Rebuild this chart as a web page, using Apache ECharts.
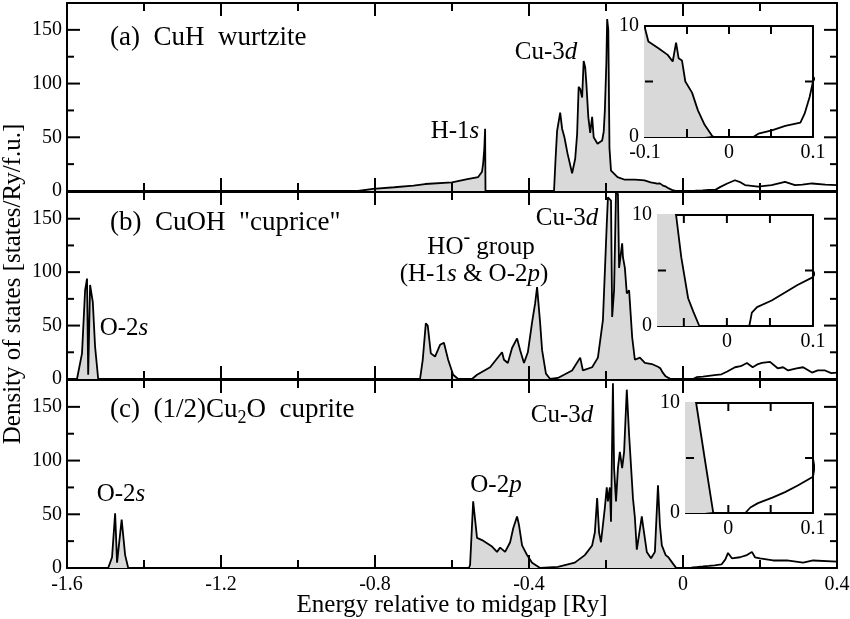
<!DOCTYPE html>
<html><head><meta charset="utf-8">
<script src="https://cdn.jsdelivr.net/npm/echarts@6/dist/echarts.min.js"></script>
<style>html,body{margin:0;padding:0;background:#fff}#c{width:850px;height:619px}</style>
</head><body><div id="c"></div><script>
// ---------------- data: [energy (Ry), DOS (states/Ry/f.u.)] ----------------
const cuhOccupied = [[-0.90,0],[-0.844,0],[-0.805,2],[-0.75,3.5],[-0.70,5],[-0.67,6.5],[-0.60,8],[-0.597,9],[-0.56,11],[-0.532,13],[-0.522,18],[-0.519,26],[-0.516,40],[-0.514,58],[-0.513,0],
 [-0.335,0],[-0.331,30],[-0.327,56],[-0.319,73],[-0.314,58],[-0.308,50],[-0.300,35],[-0.288,16.5],[-0.280,30],[-0.275,53],[-0.271,97],[-0.267,95],[-0.262,87],[-0.258,121],[-0.254,115],[-0.251,100],[-0.246,69],[-0.241,54],[-0.236,69],[-0.232,50],[-0.222,44],[-0.210,47],[-0.206,55],[-0.203,75],[-0.199,120],[-0.197,160],[-0.194,150],[-0.191,40],[-0.187,19],[-0.170,13],[-0.151,10.5],[-0.125,10.5],[-0.107,10.2],
 [-0.100,9.8],[-0.096,8.6],[-0.084,8.0],[-0.073,7.4],[-0.067,6.8],[-0.063,8.5],[-0.060,7.1],[-0.056,6.9],[-0.052,5.0],[-0.044,4.0],[-0.037,2.4],[-0.029,1.1],[-0.020,0.1],[-0.018,0]];
const cuhEmpty = [[-0.018,0],[0.029,0],[0.035,0.3],[0.051,0.6],[0.067,1.0],[0.085,1.3],[0.090,2.1],[0.096,3.6],[0.100,5.0],[0.115,7],[0.135,10],[0.150,8],[0.161,5.5],[0.195,4],[0.23,5.5],[0.265,8.5],[0.291,5.5],[0.31,6],[0.335,7],[0.37,6],[0.40,5.5]];

const cuohOccupied = [[-1.60,0],[-1.574,0],[-1.561,24],[-1.553,83],[-1.548,94],[-1.545,4],[-1.540,88],[-1.533,72],[-1.527,30],[-1.519,0],
 [-0.683,0],[-0.676,18],[-0.668,52],[-0.663,50],[-0.655,24],[-0.644,21],[-0.631,32],[-0.621,34],[-0.610,18],[-0.597,4],[-0.584,0],
 [-0.548,0],[-0.535,4],[-0.501,11],[-0.470,25],[-0.465,18],[-0.455,15],[-0.444,29],[-0.431,38],[-0.423,27],[-0.413,15],[-0.403,25],[-0.392,53],[-0.384,71],[-0.379,86],[-0.371,52],[-0.366,27],[-0.356,5],[-0.345,0],
 [-0.325,1],[-0.288,8],[-0.267,20],[-0.260,8],[-0.236,11],[-0.221,20],[-0.208,55],[-0.198,145],[-0.195,170],[-0.187,167],[-0.184,58],[-0.179,83],[-0.174,175],[-0.169,173],[-0.166,104],[-0.158,127],[-0.156,114],[-0.151,104],[-0.146,80],[-0.140,83],[-0.132,39],[-0.125,18],[-0.112,20],[-0.099,15],[-0.081,14],[-0.065,11.5],
 [-0.059,10],[-0.053,6.2],[-0.045,2.5],[-0.039,1.3],[-0.032,0]];
const cuohEmpty = [[-0.032,0],[0.026,0],[0.029,1.2],[0.035,1.7],[0.052,2.3],[0.067,3.0],[0.082,3.7],[0.100,4.4],[0.115,7],[0.135,11],[0.150,12],[0.166,15],[0.181,11],[0.195,14],[0.205,15],[0.226,16],[0.246,10],[0.260,11],[0.273,8],[0.295,10],[0.312,11],[0.335,6],[0.350,8],[0.369,8],[0.385,5.5],[0.40,6]];

const cu2oOccupied = [[-1.60,0],[-1.493,0],[-1.483,10],[-1.475,51],[-1.470,5],[-1.458,45],[-1.449,12],[-1.441,0],
 [-0.556,0],[-0.553,3],[-0.545,62],[-0.535,28],[-0.522,26],[-0.509,23],[-0.496,20],[-0.493,21],[-0.483,15],[-0.475,19],[-0.462,15],[-0.449,24],[-0.441,37],[-0.431,48],[-0.426,40],[-0.418,21],[-0.405,12],[-0.392,5],[-0.371,0],
 [-0.325,1],[-0.281,5],[-0.255,12],[-0.236,21],[-0.229,33],[-0.223,65],[-0.218,33],[-0.213,24],[-0.203,56],[-0.198,75],[-0.195,62],[-0.190,75],[-0.187,43],[-0.182,172],[-0.179,93],[-0.174,62],[-0.169,93],[-0.164,108],[-0.158,93],[-0.153,108],[-0.146,166],[-0.140,124],[-0.132,77],[-0.130,65],[-0.125,47],[-0.120,17],[-0.117,24],[-0.107,48],[-0.104,40],[-0.094,15],[-0.083,9],[-0.073,15],[-0.065,77],[-0.060,40],[-0.055,21],[-0.045,12],
 [-0.038,10],[-0.028,5],[-0.018,0.1],[-0.017,0]];
const cu2oEmpty = [[-0.017,0],[0.020,0],[0.026,0.5],[0.035,0.9],[0.052,1.4],[0.067,1.9],[0.082,2.5],[0.100,3.3],[0.110,8],[0.117,14],[0.127,9],[0.148,10],[0.166,12],[0.179,15],[0.187,10],[0.200,9],[0.234,7],[0.270,7],[0.312,5],[0.338,7],[0.40,6]];

// tick and label values
const mainXMajor = [-1.2,-0.8,-0.4,0];
const mainXMinor = [-1.4,-1.0,-0.6,-0.2,0.2];
const mainYMajor = [50,100,150];
const mainYMinor = [25,75,125];
const mainXLabels = [-1.6,-1.2,-0.8,-0.4,0,0.4];
const mainYLabels = [0,50,100,150];
const insetYTicks = [5];
const insetYLabels = [0,10];
const insetATicks = [-0.05,0,0.05], insetALabels = [-0.1,0,0.1];
const insetBTicks = [-0.05,0,0.05], insetBLabels = [0,0.1];
const insetCTicks = [0,0.05],       insetCLabels = [0,0.1];

// ---------------- layout ----------------
const F = 'Liberation Serif';
const K = '#000';
const FILL = '#d9d9d9';
const Y_MAX = 175;
const grids = [
  {left:67, top:3, width:770, height:188},
  {left:67, top:192, width:770, height:187},
  {left:67, top:380, width:770, height:188},
  {left:645, top:26, width:168, height:111},
  {left:658, top:215, width:155, height:111},
  {left:686, top:403, width:127, height:110}
].map(g => Object.assign({show:false, containLabel:false, outerBoundsMode:'none'}, g));
const xRanges = [[-1.6,0.4],[-1.6,0.4],[-1.6,0.4],[-0.1,0.1],[-0.08,0.1],[-0.05,0.1]];
const yRanges = [[0,Y_MAX],[0,Y_MAX],[0,Y_MAX],[0,10],[0,10],[0,10]];
const xLabelSets = [null, null, mainXLabels, insetALabels, insetBLabels, insetCLabels];
const yLabelSets = [mainYLabels, mainYLabels, mainYLabels, insetYLabels, insetYLabels, insetYLabels];

function axis(gi, pos, range, labels, margin) {
  return {type:'value', gridIndex:gi, position:pos, min:range[0], max:range[1],
    axisLine:{show:true, onZero:false, lineStyle:{color:K, width:2}},
    axisTick:{show:false}, minorTick:{show:false}, splitLine:{show:false}, minorSplitLine:{show:false},
    axisLabel: labels ? {show:true, customValues:labels, color:K, fontFamily:F, fontSize:20, margin:margin} : {show:false},
    axisPointer:{show:false}};
}
const xAxes = [], yAxes = [];
for (let g = 0; g < 6; g++) {
  xAxes.push(axis(g, 'bottom', xRanges[g], xLabelSets[g], g < 3 ? 7 : 6));   // index 2g
  xAxes.push(axis(g, 'top', xRanges[g], null));                               // index 2g+1
  yAxes.push(axis(g, 'left', yRanges[g], yLabelSets[g], g < 3 ? 5 : 6));      // index 2g
  yAxes.push(axis(g, 'right', yRanges[g], null));                             // index 2g+1
}

const series = [];
function line(g, data, filled) {
  const s = {type:'line', data:data, xAxisIndex:2*g, yAxisIndex:2*g, showSymbol:false, symbol:'none',
    clip:true, silent:true, lineStyle:{color:K, width:1.8}, z:3};
  if (filled) s.areaStyle = {color:FILL, opacity:1, origin:'start'};
  return s;
}
// inward tick marks placed through the axis scales (api.coord)
function ticks(g, dim, values, len) {
  const xr = xRanges[g], yr = yRanges[g];
  return {type:'custom', xAxisIndex:2*g, yAxisIndex:2*g, silent:true, clip:false, z:6,
    encode:{x:0, y:1},
    data: values.map(v => dim === 'x' ? [v, yr[0]] : [xr[0], v]),
    renderItem: function (params, api) {
      const st = {stroke:K, lineWidth:2};
      if (dim === 'x') {
        const v = api.value(0);
        const b = api.coord([v, yr[0]]), t = api.coord([v, yr[1]]);
        return {type:'group', children:[
          {type:'line', shape:{x1:b[0], y1:b[1], x2:b[0], y2:b[1] - len}, style:st},
          {type:'line', shape:{x1:t[0], y1:t[1], x2:t[0], y2:t[1] + len}, style:st}]};
      }
      const v = api.value(1);
      const l = api.coord([xr[0], v]), r = api.coord([xr[1], v]);
      return {type:'group', children:[
        {type:'line', shape:{x1:l[0], y1:l[1], x2:l[0] + len, y2:l[1]}, style:st},
        {type:'line', shape:{x1:r[0], y1:r[1], x2:r[0] - len, y2:r[1]}, style:st}]};
    }};
}
const panelData = [[cuhOccupied, cuhEmpty],[cuohOccupied, cuohEmpty],[cu2oOccupied, cu2oEmpty]];
for (let g = 0; g < 3; g++) {
  series.push(line(g, panelData[g][0], true), line(g, panelData[g][1], false));
  series.push(ticks(g, 'x', mainXMajor, 13), ticks(g, 'x', mainXMinor, 8),
              ticks(g, 'y', mainYMajor, 13), ticks(g, 'y', mainYMinor, 7));
}
const insetTicks = [insetATicks, insetBTicks, insetCTicks];
for (let k = 0; k < 3; k++) {
  const g = k + 3;
  series.push(line(g, panelData[k][0], true), line(g, panelData[k][1], false));
  series.push(ticks(g, 'x', insetTicks[k], 8), ticks(g, 'y', insetYTicks, 8));
}

// ---------------- text (plain segments; italic / sub / sup pieces) ----------------
const mctx = document.createElement('canvas').getContext('2d');
function measure(t, size, italic) { mctx.font = (italic ? 'italic ' : '') + size + 'px "' + F + '"'; return mctx.measureText(t).width; }
function label(x, y, parts, size, align) {
  const segs = parts.map(p => {
    const kind = p[1] || '';
    const s = kind === 'sub' ? Math.round(size * 0.65) : kind === 'sup' ? Math.round(size * 0.8) : size;
    const dy = kind === 'sub' ? Math.round(size * 0.3) : kind === 'sup' ? -Math.round(size * 0.36) : 0;
    return {t:p[0], s:s, it:kind === 'i', dy:dy, w:measure(p[0], s, kind === 'i')};
  });
  const W = segs.reduce((a, b) => a + b.w, 0);
  let cx = align === 'center' ? x - W / 2 : x;
  return segs.map(sg => {
    const el = {type:'text', x:cx, y:y + sg.dy, silent:true, z:10,
      style:{text:sg.t, fontFamily:F, fontSize:sg.s, fontStyle:sg.it ? 'italic' : 'normal', fill:K,
        textAlign:'left', textVerticalAlign:'middle', align:'left', verticalAlign:'middle'}};
    cx += sg.w;
    return el;
  });
}
const texts = [].concat(
  label(110, 38, [['(a)  CuH  wurtzite']], 27, 'left'),
  label(110, 223, [['(b)  CuOH  "cuprice"']], 27, 'left'),
  label(110, 410, [['(c)  (1/2)Cu'],['2','sub'],['O  cuprite']], 27, 'left'),
  label(455, 131, [['H-1'],['s','i']], 25, 'center'),
  label(546, 52, [['Cu-3'],['d','i']], 25, 'center'),
  label(124, 328, [['O-2'],['s','i']], 25, 'center'),
  label(481, 247, [['HO'],['-','sup'],[' group']], 25, 'center'),
  label(474, 274, [['(H-1'],['s','i'],[' & O-2'],['p','i'],[')']], 25, 'center'),
  label(567, 218, [['Cu-3'],['d','i']], 25, 'center'),
  label(121, 494, [['O-2'],['s','i']], 25, 'center'),
  label(496, 485, [['O-2'],['p','i']], 25, 'center'),
  label(562, 415, [['Cu-3'],['d','i']], 25, 'center'),
  label(452, 605, [['Energy relative to midgap [Ry]']], 25, 'center'),
  [{type:'text', x:13, y:284, rotation:Math.PI/2, silent:true, z:10,
    style:{text:'Density of states [states/Ry/f.u.]', fontFamily:F, fontSize:25, fill:K,
      textAlign:'center', textVerticalAlign:'middle', align:'center', verticalAlign:'middle'}}]
);

const chart = echarts.init(document.getElementById('c'));
chart.setOption({
  animation:false, backgroundColor:'#fff',
  grid:grids, xAxis:xAxes, yAxis:yAxes, series:series,
  graphic:{elements:texts}
});
</script></body></html>
